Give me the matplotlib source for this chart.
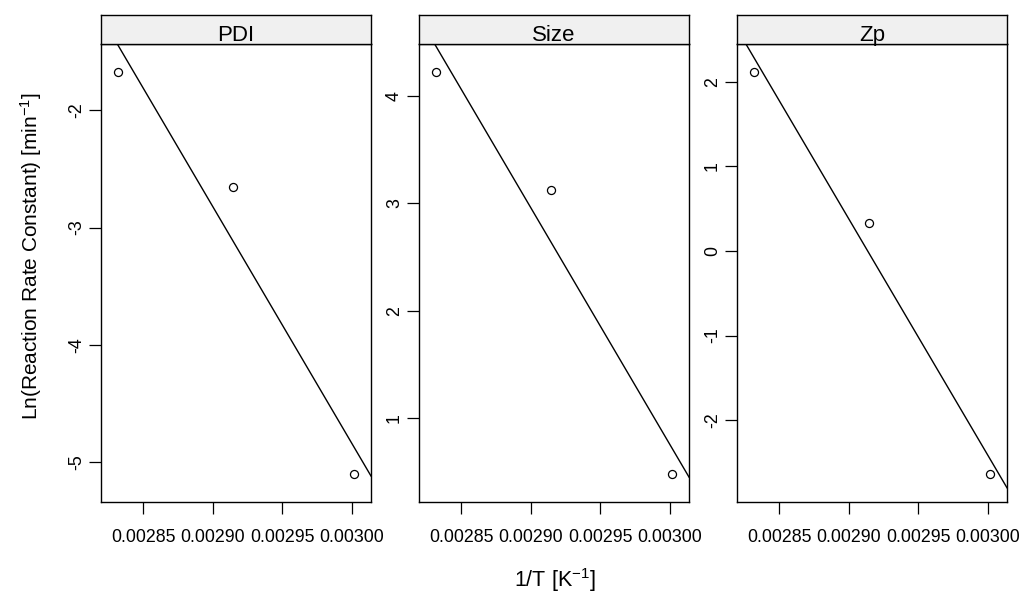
import numpy as np
import matplotlib
matplotlib.use("Agg")
import matplotlib.pyplot as plt

plt.rcParams['font.family'] = ['Liberation Sans', 'DejaVu Sans']
plt.rcParams['mathtext.fontset'] = 'custom'
plt.rcParams['mathtext.rm'] = 'Liberation Sans'
plt.rcParams['mathtext.it'] = 'Liberation Sans'

# data: 1/T at 80, 70, 60 degC, and ln(k) for each property
inv_T = [1 / 353.15, 1 / 343.15, 1 / 333.15]
panels = ['PDI', 'Size', 'Zp']
lnk_pdi = [-1.674, -2.65, -5.102]
lnk_size = [4.222, 3.127, 0.484]
lnk_zp = [2.114, 0.329, -2.635]
yticks_pdi = [-2, -3, -4, -5]
yticks_size = [1, 2, 3, 4]
yticks_zp = [-2, -1, 0, 1, 2]
xticks = [0.00285, 0.00290, 0.00295, 0.00300]
xtick_labels = ['0.00285', '0.00290', '0.00295', '0.00300']

series = [lnk_pdi, lnk_size, lnk_zp]
yticks = [yticks_pdi, yticks_size, yticks_zp]

W, H = 1024, 599
fig = plt.figure(figsize=(W / 100, H / 100), dpi=100)

lefts = [101, 419, 737]
pw = 270
top, bot, strip_top = 44, 502, 15

x = np.array(inv_T)
pad = 0.07 * (x.max() - x.min())
xlim = (x.min() - pad, x.max() + pad)

for i, name in enumerate(panels):
  y = np.array(series[i])
  ax = fig.add_axes([lefts[i] / W, 1 - bot / H, pw / W, (bot - top) / H])
  ypad = 0.07 * (y.max() - y.min())
  ax.set_xlim(*xlim)
  ax.set_ylim(y.min() - ypad, y.max() + ypad)
  ax.plot(x, y, 'o', mfc='none', mec='black', ms=5.8, mew=0.9)
  # least squares line, drawn across the whole panel
  b, a = np.polyfit(x, y, 1)
  xx = np.array(xlim)
  ax.plot(xx, a + b * xx, color='black', lw=1.0)
  ax.set_xticks(xticks)
  ax.set_xticklabels(xtick_labels)
  ax.set_yticks(yticks[i])
  ax.set_yticklabels([str(t) for t in yticks[i]], rotation=90, va='center')
  ax.tick_params(direction='out', length=8.5, width=0.9, labelsize=12.8, colors='black')
  ax.tick_params(axis='x', pad=11)
  ax.tick_params(axis='y', pad=3)
  for s in ax.spines.values():
    s.set_linewidth(1.0)

  # strip on top of the panel
  sax = fig.add_axes([lefts[i] / W, 1 - top / H, pw / W, (top - strip_top) / H])
  sax.set_facecolor('#f0f0f0')
  sax.set_xticks([])
  sax.set_yticks([])
  for s in sax.spines.values():
    s.set_linewidth(1.0)
  sax.text(0.5, 0.12, name, ha='center', va='baseline', fontsize=16, transform=sax.transAxes)

fig.text(555 / W, 1 - 580 / H, r'1/T [K$^{-1}$]', ha='center', va='center', fontsize=15.5)
fig.text(31 / W, 1 - 256 / H, r'Ln(Reaction Rate Constant) [min$^{-1}$]', ha='center', va='center',
         rotation=90, fontsize=15)

fig.savefig('out.png', dpi=100)
